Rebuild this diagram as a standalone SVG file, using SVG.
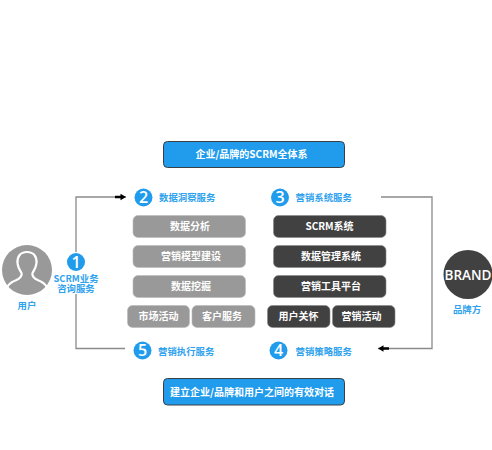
<svg xmlns="http://www.w3.org/2000/svg" width="492" height="450" viewBox="0 0 492 450">
<style>
text{font-family:"Noto Sans CJK SC","Noto Sans",sans-serif;text-anchor:middle}
.bar{fill:#219cec;stroke:#3a3f45;stroke-width:1}
.g{fill:#999;stroke:#bbb;stroke-width:.6}
.d{fill:#414141;stroke:#888;stroke-width:.6}
.bt{fill:#fff;font-size:10px;font-weight:700}
.tt{fill:#fff;font-size:10px;font-weight:700}
.lb{fill:#2fa2ee;font-size:9.400px;font-weight:700}
.lbs{text-anchor:start}
.n{fill:#219cec}
.nt{fill:#fff;font-size:16px;font-weight:600;font-family:"Open Sans","Liberation Sans",sans-serif}
.c{fill:none;stroke:#8c8a8a;stroke-width:1.300}
.a{marker-end:url(#arr)}
</style>
<defs>
<marker id="arr" markerWidth="11" markerHeight="8" refX="11" refY="4" orient="auto" markerUnits="userSpaceOnUse"><path d="M0 2.800H5.500V.8L11 4L5.500 7.200V5.200H0Z" fill="#000"/></marker>
</defs>
<g id="connectors">
<path class="c a" d="M76 252V197H126"/>
<path class="c" d="M76 294V348.500H125"/>
<path class="c a" d="M381 197H432V348.500H378"/>
</g>
<g id="top-bar"><rect class="bar" x="163.500" y="141.500" width="181" height="26" rx="4"/><text class="tt" x="251.500" y="158">企业/品牌的SCRM全体系</text></g>
<g id="bottom-bar"><rect class="bar" x="163.500" y="378.500" width="181" height="26.500" rx="4"/><text class="tt" x="252" y="395.500">建立企业/品牌和用户之间的有效对话</text></g>
<g id="user">
<circle cx="27" cy="270" r="25" fill="#999"/>
<path d="M27 252c-7 0-10 5-9.500 11 .3 4 2 7 4 10 .8 3-1 5-5 7-4 1.500-7 3-9 6.500M27 252c7 0 10 5 9.500 11-.3 4-2 7-4 10-.8 3 1 5 5 7 4 1.500 7 3 9 6.500" fill="none" stroke="#fff" stroke-width="2.200"/>
<text class="lb" x="27" y="309">用户</text>
</g>
<g id="step1"><circle class="n" cx="76" cy="262" r="9"/><text class="nt" x="76" y="267.500">1</text><text class="lb"><tspan x="76" y="281.500">SCRM业务</tspan><tspan x="76" y="292">咨询服务</tspan></text></g>
<g id="step2"><circle class="n" cx="143.500" cy="197.500" r="9"/><text class="nt" x="143.500" y="203">2</text><text class="lb lbs" x="159" y="201">数据洞察服务</text></g>
<g id="step3"><circle class="n" cx="280" cy="197.500" r="9"/><text class="nt" x="280" y="203">3</text><text class="lb lbs" x="295.500" y="201">营销系统服务</text></g>
<g id="step4"><circle class="n" cx="278.500" cy="350.500" r="9"/><text class="nt" x="278.500" y="356">4</text><text class="lb lbs" x="295.500" y="354.500">营销策略服务</text></g>
<g id="step5"><circle class="n" cx="142.500" cy="350.500" r="9"/><text class="nt" x="142.500" y="356">5</text><text class="lb lbs" x="158" y="354.500">营销执行服务</text></g>
<g id="g1"><rect class="g" x="133" y="215.500" width="112.500" height="22" rx="5"/><text class="bt" x="190" y="230">数据分析</text></g>
<g id="g2"><rect class="g" x="133" y="245.500" width="112.500" height="22" rx="5"/><text class="bt" x="191" y="260">营销模型建设</text></g>
<g id="g3"><rect class="g" x="133" y="275.500" width="112.500" height="22" rx="5"/><text class="bt" x="191" y="290">数据挖掘</text></g>
<g id="g4"><rect class="g" x="127.500" y="305.500" width="62" height="22" rx="5"/><text class="bt" x="158.500" y="320">市场活动</text></g>
<g id="g5"><rect class="g" x="192" y="305.500" width="63" height="22" rx="5"/><text class="bt" x="222" y="320">客户服务</text></g>
<g id="d1"><rect class="d" x="273.500" y="215.500" width="112.500" height="22" rx="5"/><text class="bt" x="329.500" y="230">SCRM系统</text></g>
<g id="d2"><rect class="d" x="273.500" y="245.500" width="112.500" height="22" rx="5"/><text class="bt" x="331" y="260">数据管理系统</text></g>
<g id="d3"><rect class="d" x="273.500" y="275.500" width="112.500" height="22" rx="5"/><text class="bt" x="331" y="290">营销工具平台</text></g>
<g id="d4"><rect class="d" x="267.500" y="305.500" width="62.500" height="22" rx="5"/><text class="bt" x="298.500" y="320">用户关怀</text></g>
<g id="d5"><rect class="d" x="332.500" y="305.500" width="62.500" height="22" rx="5"/><text class="bt" x="361.500" y="320">营销活动</text></g>
<g id="brand"><circle cx="468" cy="274.500" r="24.500" fill="#414141"/><text x="468" y="279.500" fill="#fff" font-size="13.500" font-weight="600" style="font-family:'Open Sans','Liberation Sans',sans-serif">BRAND</text><text class="lb" x="467" y="313">品牌方</text></g>
</svg>
